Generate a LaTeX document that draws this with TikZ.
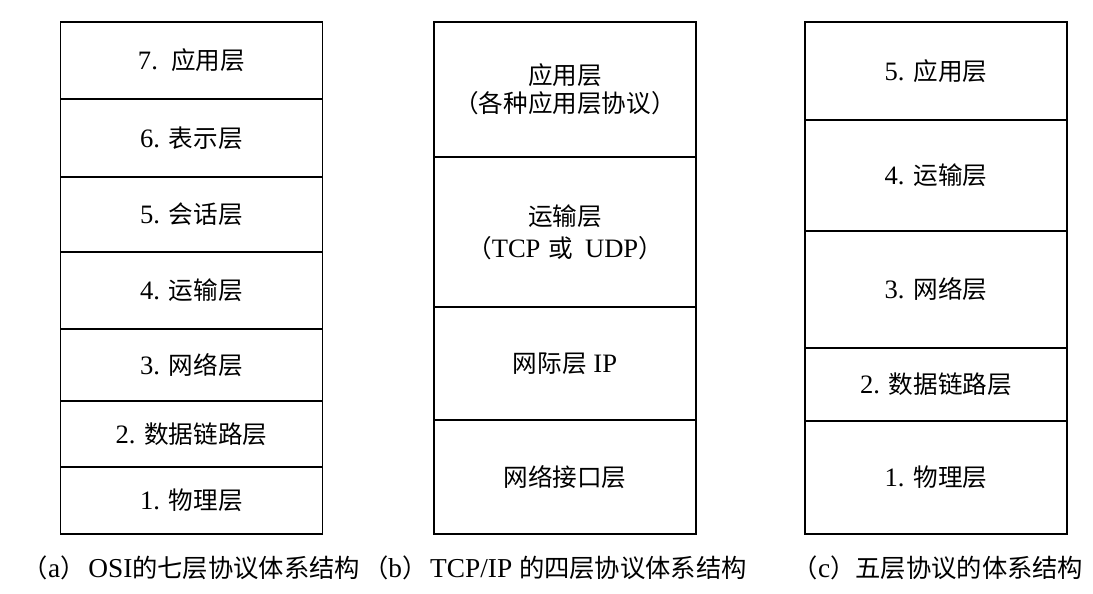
\documentclass[tikz,border=0pt]{standalone}
\usepackage{fontspec}
\setmainfont{Liberation Serif}[Scale=1.08]
\newfontfamily\cjk{Noto Sans CJK SC}
\newcommand{\zh}[1]{{\cjk #1}}
\usetikzlibrary{positioning}
\tikzset{
  layer/.style ={rectangle, draw=black, line width=1.2pt, outer sep=0pt, inner sep=0pt,
                minimum width=6.55cm, align=center, font=\fontsize{17.5}{20}\selectfont},
  caption/.style={inner sep=0pt, font=\fontsize{18}{20}\selectfont},
}

\begin{document}
\begin{tikzpicture}[x=0.025cm, y=-0.025cm, node distance=0pt]
  \useasboundingbox (0,0) rectangle (1093,593);
  % (a) OSI seven layers
  \node[layer, minimum height=1.925cm, anchor=north] (osi7) at (191.5,22) {7.\ \ \zh{应用层}};
  \node[layer, minimum height=1.95cm,  below=of osi7] (osi6) {6. \zh{表示层}};
  \node[layer, minimum height=1.875cm, below=of osi6] (osi5) {5. \zh{会话层}};
  \node[layer, minimum height=1.925cm, below=of osi5] (osi4) {4. \zh{运输层}};
  \node[layer, minimum height=1.8cm,   below=of osi4] (osi3) {3. \zh{网络层}};
  \node[layer, minimum height=1.65cm,  below=of osi3] (osi2) {2. \zh{数据链路层}};
  \node[layer, minimum height=1.675cm, below=of osi2] (osi1) {1. \zh{物理层}};
  % (b) TCP/IP four layers
  \node[layer, minimum height=3.375cm, anchor=north] (tcp4) at (565,22) {\zh{应用层}\\\zh{（各种应用层协议）}};
  \node[layer, minimum height=3.75cm,  below=of tcp4] (tcp3) {\zh{运输层}\\[3pt]\zh{（}TCP\hspace{0.3em}\zh{或}\hspace{0.45em}UDP\zh{）}};
  \node[layer, minimum height=2.825cm, below=of tcp3] (tcp2) {\zh{网际层} IP};
  \node[layer, minimum height=2.85cm,  below=of tcp2] (tcp1) {\zh{网络接口层}};
  % (c) five layers
  \node[layer, minimum height=2.45cm,  anchor=north] (five5) at (936,22) {5. \zh{应用层}};
  \node[layer, minimum height=2.775cm, below=of five5] (five4) {4. \zh{运输层}};
  \node[layer, minimum height=2.925cm, below=of five4] (five3) {3. \zh{网络层}};
  \node[layer, minimum height=1.825cm, below=of five3] (five2) {2. \zh{数据链路层}};
  \node[layer, minimum height=2.825cm, below=of five2] (five1) {1. \zh{物理层}};
  % captions
  \node[caption] (capa) at ([yshift=-0.85cm]osi1.south) {\zh{（}a\zh{）}\hspace{0.1em}OSI\zh{的七层协议体系结构}};
  \node[caption] (capb) at ([xshift=-0.25cm, yshift=-0.85cm]tcp1.south) {\zh{（}b\zh{）}\hspace{0.1em}TCP/IP \zh{的四层协议体系结构}};
  \node[caption] (capc) at ([xshift=0.05cm, yshift=-0.85cm]five1.south) {\zh{（}c\zh{）五层协议的体系结构}};
\end{tikzpicture}
\end{document}
